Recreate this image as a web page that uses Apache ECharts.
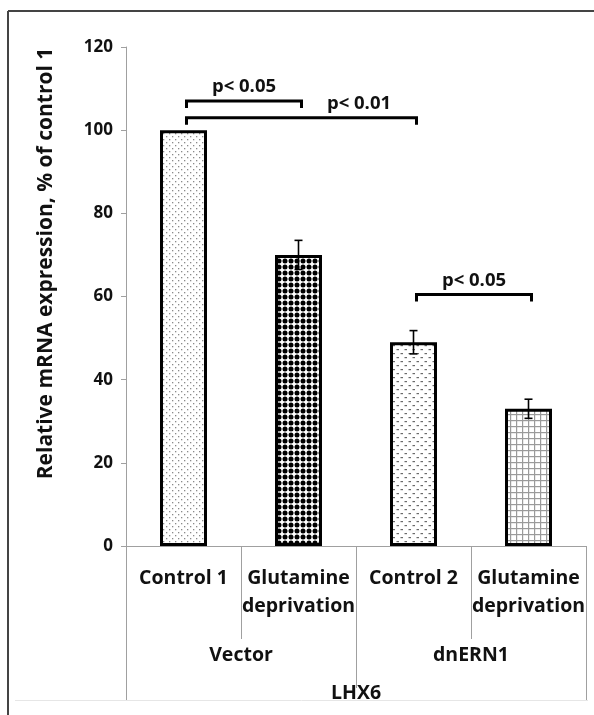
<!DOCTYPE html>
<html><head><meta charset="utf-8">
<script src="https://cdn.jsdelivr.net/npm/echarts@6/dist/echarts.min.js"></script>
<style>html,body{margin:0;padding:0;background:#fff}#c{width:594px;height:715px}</style>
</head><body><div id="c"></div>
<script>
// ---- data ----
const categories = ['Control 1', 'Glutamine\ndeprivation', 'Control 2', 'Glutamine\ndeprivation'];
const groups = ['Vector', 'dnERN1'];
const gene = ['LHX6'];
const values = [100, 70, 49, 33];
const errors = [0, 3.5, 2.8, 2.3];
const yTicks = [0, 20, 40, 60, 80, 100, 120];
const bracketFrom = [0, 0, 2];
const bracketTo = [1, 2, 3];
const bracketLevel = [107, 103, 60.5];
const bracketText = ['p< 0.05', 'p< 0.01', 'p< 0.05'];
const bracketLabelBetween = [[0, 1], [1, 2], [2, 3]];

const FONT = '"Open Sans"';

function makePattern(kind) {
  const c = document.createElement('canvas');
  const ctx = c.getContext('2d');
  if (kind === 0) {
    c.width = 6; c.height = 6;
    ctx.fillStyle = '#fff'; ctx.fillRect(0, 0, 6, 6);
    ctx.fillStyle = '#8a8a8a';
    ctx.fillRect(1, 1, 1.3, 1.3); ctx.fillRect(4, 4, 1.3, 1.3);
  } else if (kind === 1) {
    c.width = 6; c.height = 6;
    ctx.fillStyle = '#fff'; ctx.fillRect(0, 0, 6, 6);
    ctx.fillStyle = '#000';
    ctx.beginPath(); ctx.arc(3, 3, 2.5, 0, Math.PI * 2); ctx.fill();
  } else if (kind === 2) {
    c.width = 8; c.height = 8;
    ctx.fillStyle = '#fff'; ctx.fillRect(0, 0, 8, 8);
    ctx.fillStyle = '#6a6a6a';
    ctx.fillRect(0.5, 1, 2.5, 1.2); ctx.fillRect(4.5, 5, 2.5, 1.2);
  } else {
    c.width = 6; c.height = 6;
    ctx.fillStyle = '#fff'; ctx.fillRect(0, 0, 6, 6);
    ctx.fillStyle = '#9a9a9a';
    ctx.fillRect(0, 0, 6, 1.2); ctx.fillRect(0, 0, 1.2, 6);
  }
  return { image: c, repeat: 'repeat' };
}

const chart = echarts.init(document.getElementById('c'), null, { renderer: 'canvas' });

const axisGray = '#a0a0a0';
const catStyle = { fontFamily: FONT, fontWeight: 'bold', fontSize: 19.5, color: '#111' };
const tickStyle = { fontFamily: FONT, fontWeight: 'bold', fontSize: 17, color: '#111' };

const option = {
  animation: false,
  backgroundColor: '#fff',
  grid: { left: 126, right: 8, top: 47, bottom: 169, containLabel: false },
  xAxis: [
    {
      type: 'category', data: categories, position: 'bottom',
      axisLine: { show: true, lineStyle: { color: axisGray, width: 1 } },
      axisTick: { show: true, length: 93, lineStyle: { color: axisGray, width: 1 } },
      axisLabel: Object.assign({ interval: 0, margin: 18, lineHeight: 28 }, catStyle),
      splitLine: { show: false }
    },
    {
      type: 'category', data: groups, position: 'bottom',
      axisLine: { show: false },
      axisTick: { show: true, length: 142, lineStyle: { color: axisGray, width: 1 } },
      axisLabel: Object.assign({ interval: 0, margin: 95, lineHeight: 28 }, catStyle),
      splitLine: { show: false }
    },
    {
      type: 'category', data: gene, position: 'bottom',
      axisLine: { show: false },
      axisTick: { show: true, length: 154, lineStyle: { color: axisGray, width: 1 } },
      axisLabel: Object.assign({ interval: 0, margin: 133, lineHeight: 28 }, catStyle),
      splitLine: { show: false }
    }
  ],
  yAxis: {
    type: 'value', min: yTicks[0], max: yTicks[yTicks.length - 1], interval: yTicks[1] - yTicks[0],
    name: 'Relative mRNA expression, % of control 1',
    nameLocation: 'middle', nameGap: 69,
    nameTextStyle: { fontFamily: FONT, fontWeight: 'bold', fontSize: 21, color: '#111', padding: [0, 0, 0, 66] },
    axisLine: { show: true, lineStyle: { color: axisGray, width: 1 } },
    axisTick: { show: true, inside: false, length: 5, lineStyle: { color: axisGray } },
    axisLabel: Object.assign({ margin: 13 }, tickStyle),
    splitLine: { show: false }
  },
  series: [
    {
      type: 'bar', xAxisIndex: 0, yAxisIndex: 0, barWidth: 47,
      data: values.map((v, i) => ({
        value: [i, v],
        itemStyle: { color: makePattern(i), borderColor: '#000', borderWidth: 3 }
      })),
      z: 2
    },
    {
      type: 'custom', xAxisIndex: 0, yAxisIndex: 0, z: 5, clip: false,
      data: values.map((v, i) => [i, v - errors[i], v + errors[i]]),
      renderItem: function (params, api) {
        const i = api.value(0);
        if (errors[i] === 0) return null;
        const lo = api.coord([i, api.value(1)]);
        const hi = api.coord([i, api.value(2)]);
        const w = 4;
        const st = { stroke: '#000', lineWidth: 1.6 };
        return {
          type: 'group', children: [
            { type: 'line', shape: { x1: hi[0], y1: hi[1], x2: lo[0], y2: lo[1] }, style: st },
            { type: 'line', shape: { x1: hi[0] - w, y1: hi[1], x2: hi[0] + w, y2: hi[1] }, style: st },
            { type: 'line', shape: { x1: lo[0] - w, y1: lo[1], x2: lo[0] + w, y2: lo[1] }, style: st }
          ]
        };
      }
    },
    {
      type: 'custom', xAxisIndex: 0, yAxisIndex: 0, z: 6, clip: false,
      data: bracketFrom.map((f, k) => [f, bracketTo[k], bracketLevel[k], k]),
      renderItem: function (params, api) {
        const k = api.value(3);
        const a = api.coord([api.value(0), api.value(2)]);
        const b = api.coord([api.value(1), api.value(2)]);
        const la = api.coord([bracketLabelBetween[k][0], api.value(2)]);
        const lb = api.coord([bracketLabelBetween[k][1], api.value(2)]);
        const off = 3, leg = 7;
        const y = a[1];
        return {
          type: 'group', children: [
            { type: 'polyline', shape: { points: [[a[0] + off, y + leg], [a[0] + off, y], [b[0] + off, y], [b[0] + off, y + leg]] },
              style: { stroke: '#000', lineWidth: 3, fill: null } },
            { type: 'text', style: { text: bracketText[k], x: (la[0] + lb[0]) / 2 + off, y: y - 14,
              align: 'center', verticalAlign: 'middle',
              font: 'bold 18.5px ' + FONT, fill: '#111' } }
          ]
        };
      }
    }
  ],
  graphic: [
    { type: 'line', shape: { x1: 8, y1: 11, x2: 594, y2: 11 }, style: { stroke: '#444', lineWidth: 2 } },
    { type: 'line', shape: { x1: 8, y1: 11, x2: 8, y2: 715 }, style: { stroke: '#444', lineWidth: 2 } },
    { type: 'line', shape: { x1: 15, y1: 700.5, x2: 588, y2: 700.5 }, style: { stroke: '#e6e6e6', lineWidth: 1 } }
  ]
};
chart.setOption(option);
</script>
</body></html>
